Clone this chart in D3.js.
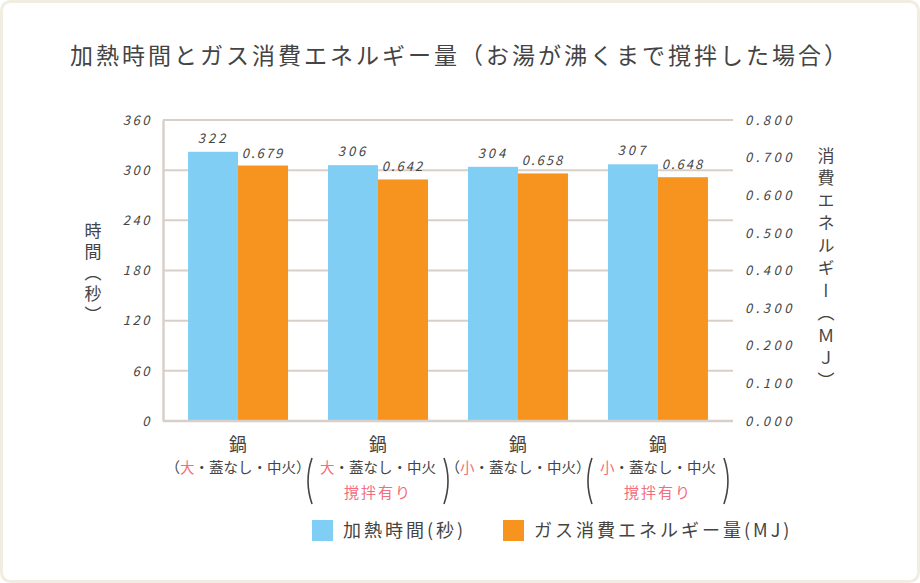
<!DOCTYPE html>
<html>
<head>
<meta charset="utf-8">
<script src="https://cdn.jsdelivr.net/npm/d3@7"></script>
<style>
  body { margin: 0; background: #fff; }
  svg text { font-family: "Noto Sans CJK JP", "Noto Sans", sans-serif; fill: #444; }
</style>
</head>
<body>
<div id="chart"></div>
<script>
var width = 920,
	height = 583;

// categories (line 1 / line 2 parts / line 3)
var categories = ["large", "largeStir", "small", "smallStir"];
var sizeWords = ["大", "大", "小", "小"];
var stirLines = ["", "撹拌有り", "", "撹拌有り"];

// series
var heatTime = [322, 306, 304, 307];        // 秒
var gasEnergy = [0.679, 0.642, 0.658, 0.648]; // MJ

// ticks
var leftTicks = [0, 60, 120, 180, 240, 300, 360];
var rightTicks = [0, 0.1, 0.2, 0.3, 0.4, 0.5, 0.6, 0.7, 0.8];

var blue = "#80cef3",
	orange = "#f7941f",
	pink = "#f26d7d",
	gridColor = "#d8d0c8";

var plotLeft = 163, plotRight = 733, plotTop = 120, plotBottom = 421;

var svg = d3.select("#chart").append("svg")
	.attr("width", width)
	.attr("height", height);

// card background
svg.append("rect")
	.attr("x", 1.5).attr("y", 1.5)
	.attr("width", width - 3).attr("height", height - 3)
	.attr("rx", 9)
	.attr("fill", "#fff")
	.attr("stroke", "#f1ede0")
	.attr("stroke-width", 3);

// title
svg.append("text")
	.attr("x", 460).attr("y", 64)
	.attr("text-anchor", "middle")
	.style("font-size", "23px")
	.style("letter-spacing", "3px")
	.text("加熱時間とガス消費エネルギー量（お湯が沸くまで撹拌した場合）");

var x = d3.scaleBand()
	.domain(categories)
	.range([plotLeft, plotRight])
	.paddingInner(0.2857)
	.paddingOuter(0.179);

var xSub = d3.scaleBand()
	.domain(["time", "gas"])
	.range([0, x.bandwidth()]);

var yLeft = d3.scaleLinear().domain([0, 360]).range([plotBottom, plotTop]);
var yRight = d3.scaleLinear().domain([0, 0.8]).range([plotBottom, plotTop]);

// gridlines
svg.append("g")
	.selectAll("line")
	.data(leftTicks.slice(1))
	.enter()
	.append("line")
	.attr("x1", plotLeft).attr("x2", plotRight)
	.attr("y1", function(d){ return yLeft(d); })
	.attr("y2", function(d){ return yLeft(d); })
	.attr("stroke", gridColor)
	.attr("stroke-width", 2);

// left axis
var leftAxis = svg.append("g")
	.attr("transform", "translate(" + plotLeft + ",0)")
	.call(d3.axisLeft(yLeft).tickValues(leftTicks).tickSize(0).tickPadding(11).tickFormat(d3.format("d")));
leftAxis.select(".domain").attr("stroke", gridColor).attr("stroke-width", 2.5);
leftAxis.selectAll("text")
	.style("font-size", "13px")
	.style("font-style", "italic")
	.style("letter-spacing", "2.5px")
	.attr("fill", "#444");

// right axis
var rightAxis = svg.append("g")
	.attr("transform", "translate(" + plotRight + ",0)")
	.call(d3.axisRight(yRight).tickValues(rightTicks).tickSize(0).tickPadding(12).tickFormat(d3.format(".3f")));
rightAxis.select(".domain").remove();
rightAxis.selectAll("text")
	.style("font-size", "13px")
	.style("font-style", "italic")
	.style("letter-spacing", "3.5px")
	.attr("fill", "#444");

// bars
var groups = svg.append("g")
	.selectAll("g")
	.data(categories)
	.enter()
	.append("g")
	.attr("transform", function(d){ return "translate(" + x(d) + ",0)"; });

groups.append("rect")
	.attr("x", xSub("time"))
	.attr("width", xSub.bandwidth())
	.attr("y", function(d, i){ return yLeft(heatTime[i]); })
	.attr("height", function(d, i){ return plotBottom - yLeft(heatTime[i]); })
	.attr("fill", blue);

groups.append("rect")
	.attr("x", xSub("gas"))
	.attr("width", xSub.bandwidth())
	.attr("y", function(d, i){ return yRight(gasEnergy[i]); })
	.attr("height", function(d, i){ return plotBottom - yRight(gasEnergy[i]); })
	.attr("fill", orange);

// bottom line over the bars
svg.append("line")
	.attr("x1", plotLeft).attr("x2", plotRight)
	.attr("y1", plotBottom).attr("y2", plotBottom)
	.attr("stroke", gridColor)
	.attr("stroke-width", 2.5);

// value labels
groups.append("text")
	.attr("x", xSub("time") + xSub.bandwidth() / 2)
	.attr("y", function(d, i){ return yLeft(heatTime[i]) - 9; })
	.attr("text-anchor", "middle")
	.style("font-size", "13px")
	.style("font-style", "italic")
	.style("letter-spacing", "3px")
	.text(function(d, i){ return heatTime[i]; });

groups.append("text")
	.attr("x", xSub("gas") + xSub.bandwidth() / 2)
	.attr("y", function(d, i){ return yRight(gasEnergy[i]) - 8; })
	.attr("text-anchor", "middle")
	.style("font-size", "13px")
	.style("font-style", "italic")
	.style("letter-spacing", "2px")
	.text(function(d, i){ return d3.format(".3f")(gasEnergy[i]); });

// category labels
groups.append("text")
	.attr("x", x.bandwidth() / 2)
	.attr("y", 451)
	.attr("text-anchor", "middle")
	.style("font-size", "18px")
	.text("鍋");

var line2 = groups.append("text")
	.attr("x", x.bandwidth() / 2)
	.attr("y", 473)
	.attr("text-anchor", "middle")
	.style("font-size", "14.5px");
line2.append("tspan")
	.text(function(d, i){ return stirLines[i] ? "" : "（"; });
line2.append("tspan")
	.style("fill", pink)
	.text(function(d, i){ return sizeWords[i]; });
line2.append("tspan")
	.text(function(d, i){ return stirLines[i] ? "・蓋なし・中火" : "・蓋なし・中火）"; });

groups.append("text")
	.attr("x", x.bandwidth() / 2)
	.attr("y", 498)
	.attr("text-anchor", "middle")
	.style("font-size", "15px")
	.style("fill", pink)
	.style("letter-spacing", "2px")
	.text(function(d, i){ return stirLines[i]; });

// tall parentheses around two-line labels
var stirGroups = groups.filter(function(d, i){ return stirLines[i] !== ""; });
stirGroups.append("path")
	.attr("d", "M-16,458 Q-24,481 -16,504")
	.attr("fill", "none")
	.attr("stroke", "#444")
	.attr("stroke-width", 1.6);
stirGroups.append("path")
	.attr("d", "M" + (x.bandwidth() + 16) + ",458 Q" + (x.bandwidth() + 24) + ",481 " + (x.bandwidth() + 16) + ",504")
	.attr("fill", "none")
	.attr("stroke", "#444")
	.attr("stroke-width", 1.6);

// axis titles (vertical)
svg.append("text")
	.attr("x", 93).attr("y", 222)
	.style("writing-mode", "vertical-rl")
	.style("text-orientation", "upright")
	.style("font-size", "17px")
	.style("letter-spacing", "4px")
	.text("時間（秒）");

svg.append("text")
	.attr("x", 826).attr("y", 147)
	.style("writing-mode", "vertical-rl")
	.style("text-orientation", "upright")
	.style("font-size", "17px")
	.style("letter-spacing", "5.5px")
	.text("消費エネルギー（ＭＪ）");

// legend
var legendItems = [
	{label: "加熱時間(秒)", color: blue, x: 312},
	{label: "ガス消費エネルギー量(MJ)", color: orange, x: 503}
];
var legend = svg.append("g").selectAll("g")
	.data(legendItems)
	.enter()
	.append("g")
	.attr("transform", function(d){ return "translate(" + d.x + ",520)"; });
legend.append("rect")
	.attr("width", 21).attr("height", 21)
	.attr("fill", function(d){ return d.color; });
legend.append("text")
	.attr("x", 31).attr("y", 17)
	.style("font-size", "18px")
	.style("letter-spacing", "3px")
	.text(function(d){ return d.label; });
</script>
</body>
</html>
